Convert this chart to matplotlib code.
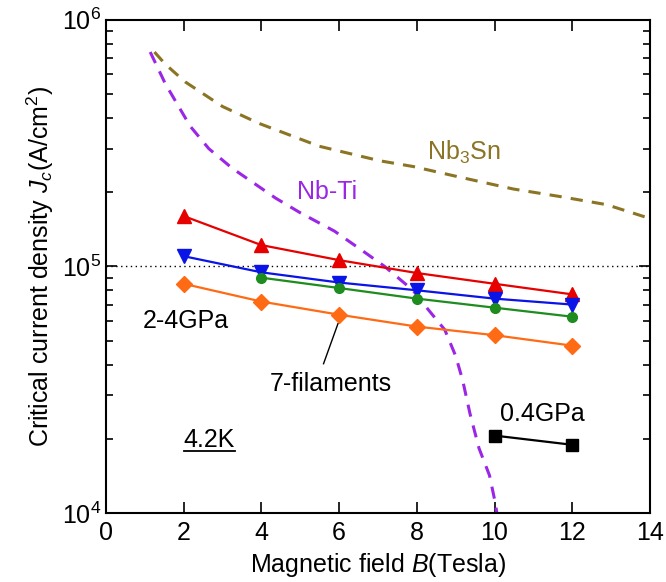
import matplotlib
matplotlib.use("Agg")
import matplotlib.pyplot as plt
from matplotlib.ticker import LogLocator, NullFormatter

plt.rcParams['font.family'] = ['Liberation Sans', 'DejaVu Sans']
plt.rcParams['mathtext.fontset'] = 'custom'
plt.rcParams['mathtext.rm'] = 'Liberation Sans'
plt.rcParams['mathtext.it'] = 'Liberation Sans:italic'

# measured Jc (A/cm^2) vs field (T)
B_full = [2, 4, 6, 8, 10, 12]
B_part = [4, 6, 8, 10, 12]
jc_red = [1.6e5, 1.22e5, 1.06e5, 0.94e5, 0.85e5, 0.77e5]
jc_blue = [1.10e5, 0.946e5, 0.86e5, 0.80e5, 0.74e5, 0.70e5]
jc_green = [0.90e5, 0.817e5, 0.74e5, 0.68e5, 0.625e5]
jc_orange = [0.85e5, 0.72e5, 0.637e5, 0.57e5, 0.526e5, 0.477e5]
B_low = [10, 12]
jc_low = [2.06e4, 1.89e4]

# reference wires
B_nb3sn = [1.25, 1.53, 2.04, 2.39, 3.0, 3.94, 5.49, 7.05, 7.91, 9.11, 10.48, 11.68, 12.88, 13.91, 14.0]
jc_nb3sn = [7.4e5, 6.6e5, 5.6e5, 5.15e5, 4.45e5, 3.8e5, 3.07e5, 2.68e5, 2.54e5, 2.30e5, 2.06e5, 1.92e5, 1.78e5, 1.58e5, 1.56e5]
B_nbti = [1.14, 1.53, 2.17, 2.65, 3.25, 4.37, 5.0, 5.88, 6.61, 7.17, 7.9, 8.27, 8.72, 9.0, 9.18, 9.37, 9.6, 9.87, 10.0, 10.06]
jc_nbti = [7.4e5, 5.5e5, 3.7e5, 3.0e5, 2.5e5, 1.89e5, 1.65e5, 1.39e5, 1.155e5, 1.0e5, 0.80e5, 0.675e5,
           0.553e5, 0.433e5, 0.345e5, 0.252e5, 0.183e5, 0.142e5, 0.1135e5, 0.1e5]

fs = 18

fig = plt.figure(figsize=(6.66, 5.82), dpi=100)
ax = fig.add_axes([0.159, 0.1186, 0.817, 0.8474])

ax.axhline(1e5, color='black', ls=(0, (1, 2.5)), lw=1)

ax.plot(B_nb3sn, jc_nb3sn, color='#8B7424', ls=(0, (4, 3)), lw=2.2)
ax.plot(B_nbti, jc_nbti, color='#9B26E6', ls=(0, (4, 3)), lw=2.2)

ax.plot(B_full, jc_red, color='#E60000', marker='^', ms=10, lw=1.6)
ax.plot(B_full, jc_blue, color='#0A14E6', marker='v', ms=10, lw=1.6)
ax.plot(B_part, jc_green, color='#1E8C1E', marker='o', ms=7, lw=1.6)
ax.plot(B_full, jc_orange, color='#FF6A14', marker='D', ms=8, lw=1.6)
ax.plot(B_low, jc_low, color='black', marker='s', ms=8, lw=1.6)

ax.set_yscale('log')
ax.set_xlim(0, 14)
ax.set_ylim(1e4, 1e6)
ax.set_xticks(range(0, 15, 2))
ax.yaxis.set_major_locator(LogLocator(base=10, numticks=5))
ax.yaxis.set_minor_locator(LogLocator(base=10, subs=range(2, 10), numticks=20))
ax.yaxis.set_minor_formatter(NullFormatter())
ax.tick_params(which='both', direction='in', top=True, right=True, labelsize=fs, width=1.2)
ax.tick_params(which='major', length=8)
ax.tick_params(which='minor', length=5)
ax.tick_params(axis='x', pad=6)
for s in ax.spines.values():
    s.set_linewidth(1.5)

ax.set_xlabel(r'Magnetic field $B$(Tesla)', fontsize=fs, labelpad=4)
ax.set_ylabel(r'Critical current density $J_c$(A/cm$^2$)', fontsize=fs, labelpad=4)

ax.text(8.26, 2.91e5, r'Nb$_3$Sn', color='#8B7424', fontsize=fs, va='center')
ax.text(4.91, 2.0e5, 'Nb-Ti', color='#9B26E6', fontsize=fs, va='center')
ax.text(0.95, 6.0e4, '2-4GPa', fontsize=fs, va='center')
ax.text(4.22, 3.35e4, '7-filaments', fontsize=fs, va='center')
ax.plot([5.97, 5.6], [5.85e4, 4.03e4], color='black', lw=1)
ax.text(10.15, 2.52e4, '0.4GPa', fontsize=fs, va='center')
ax.text(2.0, 1.97e4, '4.2K', fontsize=fs, va='center')
ax.plot([2.0, 3.31], [1.776e4, 1.776e4], color='black', lw=1.3)

fig.savefig('out.png', dpi=100)
